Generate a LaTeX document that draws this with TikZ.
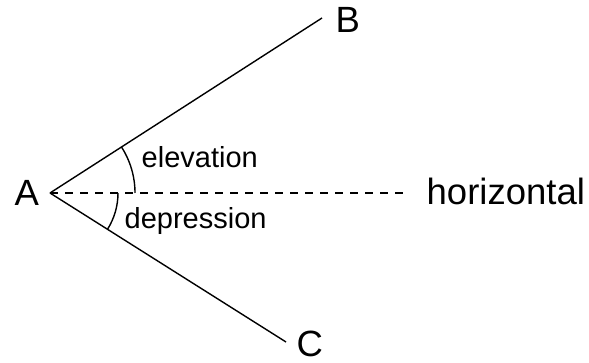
\documentclass[tikz,border=0pt]{standalone}
\usepackage{fontspec}
\setmainfont{Liberation Sans}
\usepackage{tikz}
\usetikzlibrary{arrows.meta,positioning,calc}

\begin{document}
\begin{tikzpicture}[x=1pt,y=1pt,line width=1.4pt,
    every node/.style={inner sep=0pt,anchor=base west},
    biglabel/.style={font=\fontsize{36.5}{42}\selectfont},
    anglelabel/.style={font=\fontsize{29}{34}\selectfont},
    level/.style={dash pattern=on 8pt off 7pt,line width=1.2pt}]
  \useasboundingbox (0,0) rectangle (589,363);
  % rays from the eye
  \coordinate (A) at (50,170);
  \coordinate (B) at (322,345);
  \coordinate (C) at (286,21);
  \coordinate (H) at (405,170);
  \draw (A) -- (B);
  \draw (A) -- (C);
  \draw[level] (A) -- (H);
  % angles
  \draw ($(A)+(85,0)$) arc[start angle=0,end angle=32.75,radius=85pt];
  \draw ($(A)+(68,0)$) arc[start angle=0,end angle=-32.3,radius=68pt];
  % labels
  \node[biglabel] (lA) at (14,157) {A};
  \node[biglabel] (lB) at (335,330) {B};
  \node[biglabel] (lC) at (296,6.5) {C};
  \node[biglabel] (lH) at (426,158) {horizontal};
  \node[anglelabel] (lE) at (141,195) {elevation};
  \node[anglelabel] (lD) at (124,134) {depression};
\end{tikzpicture}
\end{document}
